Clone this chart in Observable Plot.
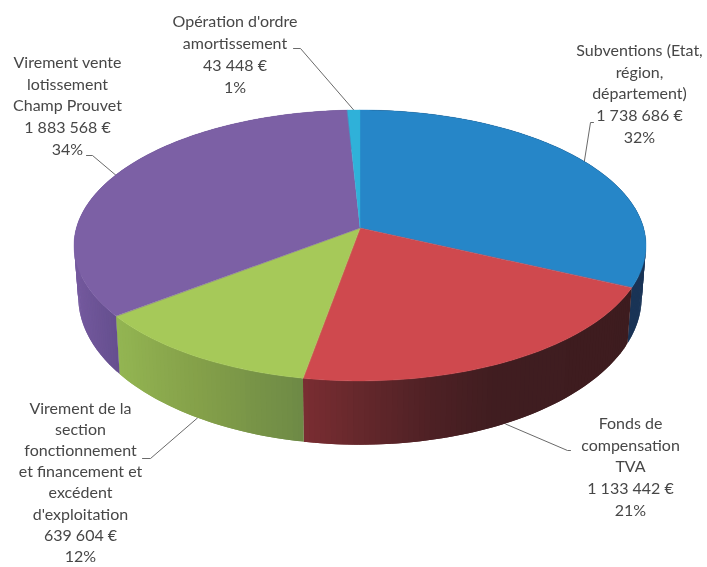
<!DOCTYPE html>
<html>
<head>
<meta charset="utf-8">
<script src="https://cdn.jsdelivr.net/npm/d3@7"></script>
<script src="https://cdn.jsdelivr.net/npm/@observablehq/plot@0.6"></script>
<style>
html,body{margin:0;padding:0;background:#fff;overflow:hidden}
svg{display:block;filter:blur(0.35px)}
</style>
</head>
<body>
<div id="chart"></div>
<script>
// --- data ---
const names = [
  ["Subventions (Etat,", "région,", "département)"],
  ["Fonds de", "compensation", "TVA"],
  ["Virement de la", "section", "fonctionnement", "et financement et", "excédent", "d'exploitation"],
  ["Virement vente", "lotissement", "Champ Prouvet"],
  ["Opération d'ordre", "amortissement"]
];
const values = [1738686, 1133442, 639604, 1883568, 43448];
const percents = [32, 21, 12, 34, 1];

// --- style ---
const topColors = ["#2686c8", "#cf494e", "#a6c959", "#7c60a5", "#2fb1d9"];
const wallStops = [
  [[360, "#17304f"], [700, "#1b3558"]],
  [[305, "#7a2d32"], [360, "#66282c"], [440, "#4c2024"], [500, "#401d20"], [640, "#3d1c1f"]],
  [[118, "#93b552"], [200, "#84a049"], [304, "#6e8a46"]],
  [[75, "#74599e"], [118, "#654f8e"]],
  [[340, "#1f7f9e"], [360, "#1f7f9e"]]
];

// --- layout of the 3D disc and of the labels ---
const CX = 360, CY = 228, RX = 283.6, RY = 133.2, PERSP = 0.129;
const DROP = 50, GROW_Y = 1.09, SHRINK_X = 0.985;
const labelX = [639, 630, 80, 67, 234.5];
const labelY = [50, 423, 408, 62, 21];
const lineStep = [21.9, 21.9, 21.2, 21.9, 22];
const elbowA = [[593, 122], [570, 450], [142, 458], [86, 155], [293, 48]];
const elbowB = [[590, 122], [567, 450], [150, 458], [92, 155], [300, 48]];
const leaderOnWall = [false, true, true, false, false];

// --- projection of a disc angle (clockwise from the top) ---
function rim(a) {
  const c = Math.sin(a), s = -Math.cos(a), d = 1 - PERSP * s;
  return [CX + RX * c / d, CY + RY * s / d];
}
function rimLow(a) {
  const [x, y] = rim(a);
  return [CX + (x - CX) * SHRINK_X, CY + DROP + (y - CY) * GROW_Y];
}

const arcs = d3.pie().sort(null)(values);
const money = v => String(v).replace(/\B(?=(\d{3})+$)/g, " ") + " €";

const topFan = [], wallStrips = [], leaders = [], labels = [];
arcs.forEach((arc, i) => {
  const shade = d3.scaleLinear(wallStops[i].map(d => d[0]), wallStops[i].map(d => d[1]))
    .interpolate(d3.interpolateRgb).clamp(true);
  const span = arc.endAngle - arc.startAngle;
  const n = Math.max(2, Math.ceil(span / (Math.PI / 180)));
  for (let j = 0; j <= n; j++) {
    const a = arc.startAngle + span * j / n;
    const [x, y] = rim(a);
    topFan.push({slice: i, x1: x, y1: y, x2: CX, y2: CY, fill: topColors[i]});
    if (j < n) {
      // each strip overlaps the next one so that no seam shows
      const b = arc.startAngle + span * Math.min(j + 2, n) / n;
      const [bx, by] = rim(b), [lx, ly] = rimLow(a), [mx, my] = rimLow(b);
      const col = shade(x);
      const id = i + "-" + j;
      wallStrips.push({id, x1: x, y1: y, x2: lx, y2: ly, fill: col});
      wallStrips.push({id, x1: bx, y1: by, x2: mx, y2: my, fill: col});
    }
  }
  const mid = (arc.startAngle + arc.endAngle) / 2;
  const [ax, ay] = leaderOnWall[i] ? rimLow(mid) : rim(mid);
  leaders.push({id: i, x: elbowA[i][0], y: elbowA[i][1]});
  leaders.push({id: i, x: elbowB[i][0], y: elbowB[i][1]});
  leaders.push({id: i, x: ax, y: ay});
  [...names[i], money(values[i]), percents[i] + "%"].forEach((t, k) => {
    labels.push({text: t, x: labelX[i], y: labelY[i] + k * lineStep[i]});
  });
});

const chart = Plot.plot({
  width: 707,
  height: 567,
  margin: 0,
  x: {domain: [0, 707], range: [0, 707], axis: null},
  y: {domain: [0, 567], range: [0, 567], axis: null},
  style: {background: "#fff", fontFamily: "Lato, 'Open Sans', sans-serif"},
  marks: [
    Plot.line(leaders, {x: "x", y: "y", z: "id", stroke: "#6a6a6a", strokeWidth: 1, curve: "linear"}),
    Plot.area(wallStrips, {x1: "x1", y1: "y1", x2: "x2", y2: "y2", z: "id", fill: "fill", curve: "linear"}),
    Plot.area(topFan, {x1: "x1", y1: "y1", x2: "x2", y2: "y2", z: "slice", fill: "fill", stroke: "fill", strokeWidth: 0.4, curve: "linear"}),
    Plot.text(labels, {x: "x", y: "y", text: "text", fontSize: 16, fill: "#474747", textAnchor: "middle", lineAnchor: "middle"})
  ]
});
document.getElementById("chart").append(chart);
</script>
</body>
</html>
